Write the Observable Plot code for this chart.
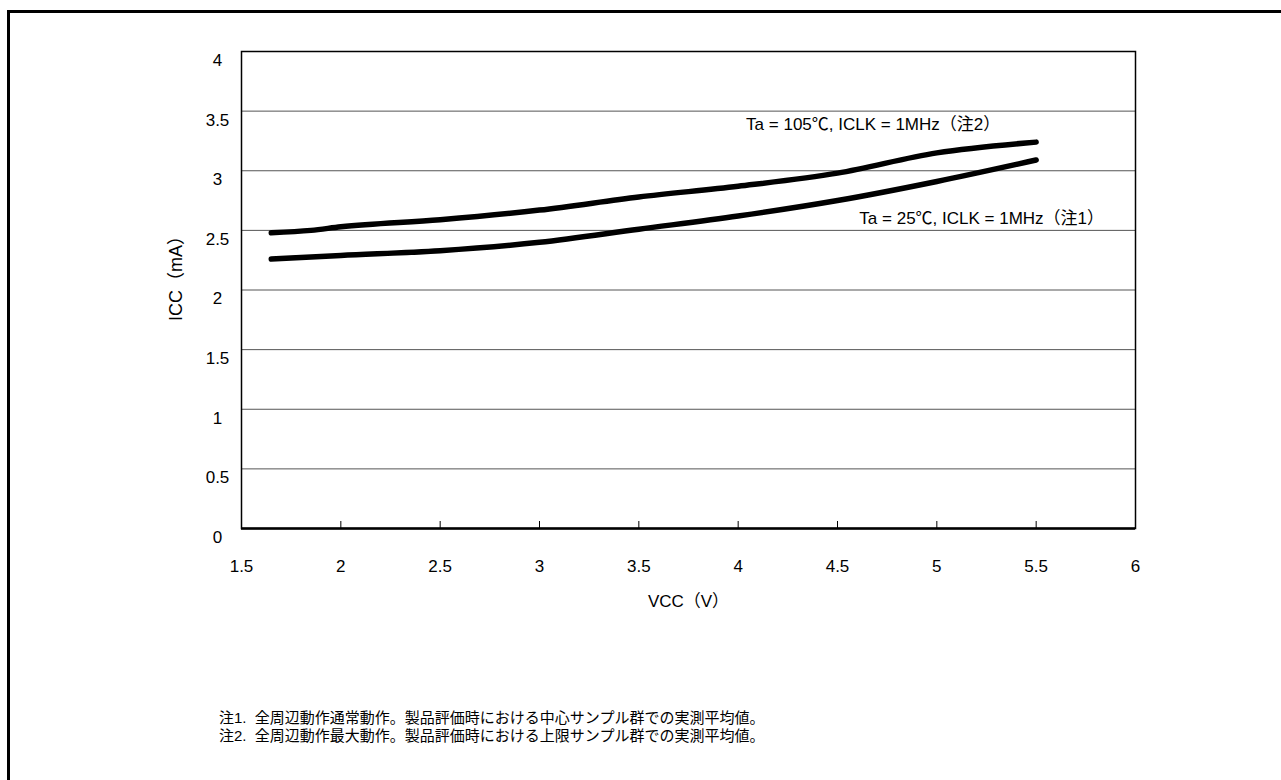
<!DOCTYPE html>
<html>
<head>
<meta charset="utf-8">
<script src="https://cdn.jsdelivr.net/npm/d3@7"></script>
<script src="https://cdn.jsdelivr.net/npm/@observablehq/plot@0.6"></script>
<style>
  html, body { margin: 0; padding: 0; background: #fff; }
  body { width: 1281px; height: 780px; position: relative; overflow: hidden;
         font-family: "Liberation Sans", Arial, "Noto Sans CJK JP", sans-serif; }
  #frame { position: absolute; left: 7px; top: 10px; width: 1280px; height: 780px;
           border-left: 3px solid #000; border-top: 3px solid #000; box-sizing: border-box; }
  #chart { position: absolute; left: 0; top: 0; }
  #notes { position: absolute; left: 219px; top: 709px; font-size: 15px; line-height: 18px; color: #000;
           font-family: "Liberation Sans", Arial, "Noto Sans CJK JP", sans-serif; white-space: pre; }
</style>
</head>
<body>
<div id="frame"></div>
<div id="chart"></div>
<div id="notes"></div>
<script>
// ---- data ----
const vccUpper = [1.65, 1.85, 2.0, 2.5, 3.0, 3.5, 4.0, 4.5, 5.0, 5.5];
const iccUpper = [2.48, 2.50, 2.53, 2.59, 2.67, 2.78, 2.87, 2.98, 3.15, 3.24]; // Ta = 105℃
const vccLower = [1.65, 2.0, 2.5, 3.0, 3.5, 4.0, 4.5, 5.0, 5.5];
const iccLower = [2.26, 2.29, 2.33, 2.40, 2.51, 2.62, 2.75, 2.91, 3.09];      // Ta = 25℃
const seriesNames = ["Ta = 105℃, ICLK = 1MHz（注2）", "Ta = 25℃, ICLK = 1MHz（注1）"];
const labelX = [4.04, 4.61];
const labelY = [3.39, 2.60];
const xTicks = [1.5, 2, 2.5, 3, 3.5, 4, 4.5, 5, 5.5, 6];
const xInnerTicks = [2, 2.5, 3, 3.5, 4, 4.5, 5, 5.5];
const yTicks = [0, 0.5, 1, 1.5, 2, 2.5, 3, 3.5, 4];
const yGrid = [0.5, 1, 1.5, 2, 2.5, 3, 3.5];
const xTitle = "VCC（V）";
const yTitle = "ICC（mA）";
const notes = [
  "注1.  全周辺動作通常動作。製品評価時における中心サンプル群での実測平均値。",
  "注2.  全周辺動作最大動作。製品評価時における上限サンプル群での実測平均値。"
];

const upper = vccUpper.map((v, i) => ({v, i: iccUpper[i], s: seriesNames[0]}));
const lower = vccLower.map((v, i) => ({v, i: iccLower[i], s: seriesNames[1]}));
const labels = seriesNames.map((t, k) => ({t, x: labelX[k], y: labelY[k]}));

const W = 1281, H = 660, mT = 51, mL = 241, mR = 146, mB = 132;
const innerH = H - mT - mB;

const chart = Plot.plot({
  width: W, height: H,
  marginTop: mT, marginLeft: mL, marginRight: mR, marginBottom: mB,
  style: {fontFamily: '"Liberation Sans", Arial, "Noto Sans CJK JP", sans-serif', background: "transparent", color: "#000"},
  x: {domain: [1.5, 6]},
  y: {domain: [0, 4]},
  marks: [
    Plot.ruleY(yGrid, {stroke: "#555", strokeWidth: 1}),
    Plot.frame({stroke: "#000", strokeWidth: 1.5}),
    Plot.ruleY([0], {stroke: "#000", strokeWidth: 2.5}),
    Plot.ruleX(xInnerTicks, {stroke: "#000", strokeWidth: 1, insetTop: innerH - 7}),
    Plot.axisX({ticks: xTicks, tickSize: 0, tickPadding: 31, fontSize: 17, label: null, tickFormat: d => String(d)}),
    Plot.axisY({ticks: yTicks, tickSize: 0, tickPadding: 24, textAnchor: "middle", dy: 9, fontSize: 17, label: null, tickFormat: d => String(d)}),
    Plot.line(upper, {x: "v", y: "i", stroke: "#000", strokeWidth: 5.5, strokeLinecap: "round", strokeLinejoin: "round", curve: "monotone-x"}),
    Plot.line(lower, {x: "v", y: "i", stroke: "#000", strokeWidth: 5.5, strokeLinecap: "round", strokeLinejoin: "round", curve: "monotone-x"}),
    Plot.text(labels, {x: "x", y: "y", text: "t", textAnchor: "start", fontSize: 17, fill: "#000"}),
    Plot.text([xTitle], {frameAnchor: "bottom", dy: 78, fontSize: 17, fill: "#000"}),
    Plot.text([yTitle], {frameAnchor: "left", dx: -65, dy: 31, rotate: -90, fontSize: 18, fill: "#000"})
  ]
});
document.getElementById("chart").appendChild(chart);
document.getElementById("notes").textContent = notes.join("\n");
</script>
</body>
</html>
